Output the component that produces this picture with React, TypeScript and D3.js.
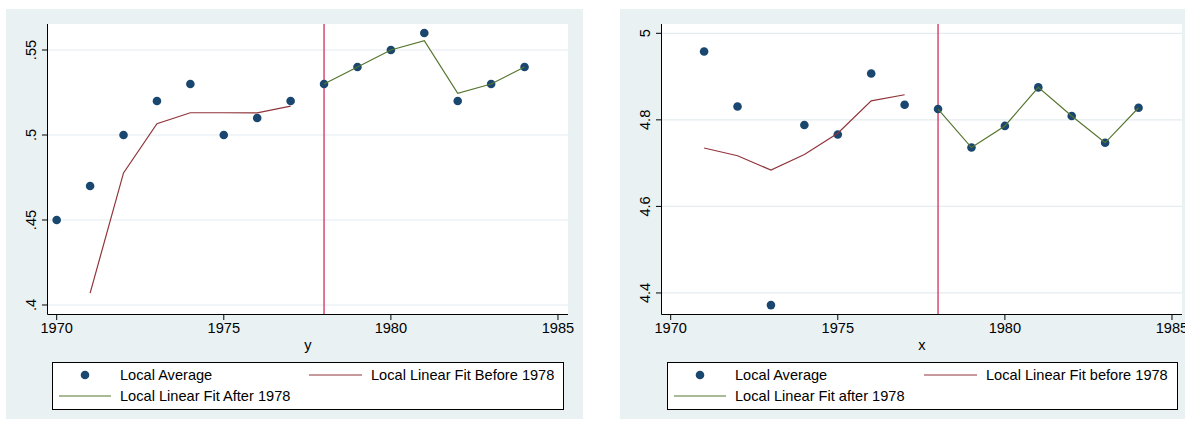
import { useEffect, useRef } from "react";
import * as d3 from "d3";

// shared x values
const avgYears = [1970, 1971, 1972, 1973, 1974, 1975, 1976, 1977, 1978, 1979, 1980, 1981, 1982, 1983, 1984];
const beforeYears = [1971, 1972, 1973, 1974, 1975, 1976, 1977];
const afterYears = [1978, 1979, 1980, 1981, 1982, 1983, 1984];
const xTicks = [1970, 1975, 1980, 1985];

// left panel (y)
const leftAvg = [0.45, 0.47, 0.5, 0.52, 0.53, 0.5, 0.51, 0.52, 0.53, 0.54, 0.55, 0.56, 0.52, 0.53, 0.54];
const leftBefore = [0.407, 0.4777, 0.5066, 0.5131, 0.5131, 0.513, 0.517];
const leftAfter = [0.53, 0.54, 0.55, 0.5555, 0.5245, 0.53, 0.54];
const leftYTicks = [0.4, 0.45, 0.5, 0.55];
const leftYLabels = [".4", ".45", ".5", ".55"];

// right panel (x)
const rightAvg = [NaN, 4.958, 4.831, 4.372, 4.788, 4.766, 4.907, 4.835, 4.825, 4.736, 4.786, 4.875, 4.809, 4.747, 4.828];
const rightBefore = [4.735, 4.717, 4.684, 4.72, 4.769, 4.844, 4.858];
const rightAfter = [4.825, 4.736, 4.786, 4.875, 4.809, 4.747, 4.828];
const rightYTicks = [4.4, 4.6, 4.8, 5];
const rightYLabels = ["4.4", "4.6", "4.8", "5"];

const BG = "#eaf1f3";
const GRID = "#e4ecef";
const NAVY = "#1a476f";
const MAROON = "#90353b";
const GREEN = "#55752f";
const CUT = "#d83c68";
const FONT = "'Liberation Sans', Arial, sans-serif";
const FS = 14.6;

interface PanelSpec {
  bgX0: number;
  bgX1: number;
  plotX0: number;
  plotX1: number;
  yDomain: [number, number];
  yTicks: number[];
  yLabels: string[];
  avg: number[];
  before: number[];
  after: number[];
  title: string;
  legendX0: number;
  legendX1: number;
  beforeLabel: string;
  afterLabel: string;
}

const panels: PanelSpec[] = [
  {
    bgX0: 6, bgX1: 583, plotX0: 48, plotX1: 568,
    yDomain: [0.3947, 0.5653], yTicks: leftYTicks, yLabels: leftYLabels,
    avg: leftAvg, before: leftBefore, after: leftAfter, title: "y",
    legendX0: 52, legendX1: 563,
    beforeLabel: "Local Linear Fit Before 1978", afterLabel: "Local Linear Fit After 1978",
  },
  {
    bgX0: 620, bgX1: 1185, plotX0: 662, plotX1: 1182,
    yDomain: [4.3514, 5.0215], yTicks: rightYTicks, yLabels: rightYLabels,
    avg: rightAvg, before: rightBefore, after: rightAfter, title: "x",
    legendX0: 667, legendX1: 1177,
    beforeLabel: "Local Linear Fit before 1978", afterLabel: "Local Linear Fit after 1978",
  },
];

export default function App() {
  const ref = useRef<SVGSVGElement>(null);

  useEffect(() => {
    if (!ref.current) return;
    const svg = d3.select(ref.current);
    svg.selectAll("*").remove();
    svg.attr("font-family", FONT);

    const top = 24, bottom = 314;

    panels.forEach((p) => {
      const g = svg.append("g");
      g.append("rect").attr("x", p.bgX0).attr("y", 9).attr("width", p.bgX1 - p.bgX0).attr("height", 410).attr("fill", BG);
      g.append("rect").attr("x", p.plotX0).attr("y", top).attr("width", p.plotX1 - p.plotX0).attr("height", bottom - top).attr("fill", "white");

      const x = d3.scaleLinear().domain([1969.74, 1985.3]).range([p.plotX0, p.plotX1]);
      const y = d3.scaleLinear().domain(p.yDomain).range([bottom, top]);

      // grid
      g.selectAll(".grid").data(p.yTicks).enter().append("line")
        .attr("x1", p.plotX0).attr("x2", p.plotX1)
        .attr("y1", (d) => y(d)).attr("y2", (d) => y(d))
        .attr("stroke", GRID).attr("stroke-width", 1.2);

      // axes
      g.append("line").attr("x1", p.plotX0 - 0.5).attr("x2", p.plotX0 - 0.5).attr("y1", top).attr("y2", bottom + 0.5).attr("stroke", "#000");
      g.append("line").attr("x1", p.plotX0 - 0.5).attr("x2", p.plotX1).attr("y1", bottom + 0.5).attr("y2", bottom + 0.5).attr("stroke", "#000");

      p.yTicks.forEach((t, i) => {
        g.append("line").attr("x1", p.plotX0 - 6).attr("x2", p.plotX0).attr("y1", y(t)).attr("y2", y(t)).attr("stroke", "#000");
        g.append("text")
          .attr("transform", `translate(${p.plotX0 - 12},${y(t)}) rotate(-90)`)
          .attr("text-anchor", "middle").attr("font-size", FS).attr("fill", "#000")
          .text(p.yLabels[i]);
      });

      xTicks.forEach((t) => {
        g.append("line").attr("x1", x(t)).attr("x2", x(t)).attr("y1", bottom).attr("y2", bottom + 6).attr("stroke", "#000");
        g.append("text").attr("x", x(t)).attr("y", bottom + 19).attr("text-anchor", "middle")
          .attr("font-size", FS).attr("fill", "#000").text(String(t));
      });

      g.append("text").attr("x", (p.plotX0 + p.plotX1) / 2).attr("y", 350).attr("text-anchor", "middle")
        .attr("font-size", FS).attr("fill", "#000").text(p.title);

      // cutoff
      g.append("line").attr("x1", x(1978)).attr("x2", x(1978)).attr("y1", top).attr("y2", bottom)
        .attr("stroke", CUT).attr("stroke-width", 1.4);

      const line = d3.line<[number, number]>().x((d) => x(d[0])).y((d) => y(d[1]));

      const pts = avgYears.map((yr, i) => [yr, p.avg[i]] as [number, number]).filter((d) => !isNaN(d[1]));
      g.selectAll(".pt").data(pts).enter().append("circle")
        .attr("cx", (d) => x(d[0])).attr("cy", (d) => y(d[1])).attr("r", 4.3).attr("fill", NAVY);

      g.append("path").attr("d", line(beforeYears.map((yr, i) => [yr, p.before[i]])))
        .attr("fill", "none").attr("stroke", MAROON).attr("stroke-width", 1.2);
      g.append("path").attr("d", line(afterYears.map((yr, i) => [yr, p.after[i]])))
        .attr("fill", "none").attr("stroke", GREEN).attr("stroke-width", 1.2);

      // legend
      const lx = p.legendX0;
      g.append("rect").attr("x", lx + 0.5).attr("y", 362.5).attr("width", p.legendX1 - lx).attr("height", 47)
        .attr("fill", "white").attr("stroke", "#000");
      g.append("circle").attr("cx", lx + 33).attr("cy", 375).attr("r", 4.3).attr("fill", NAVY);
      g.append("text").attr("x", lx + 68).attr("y", 380).attr("font-size", FS).text("Local Average");
      g.append("line").attr("x1", lx + 7).attr("x2", lx + 59).attr("y1", 396).attr("y2", 396).attr("stroke", GREEN);
      g.append("text").attr("x", lx + 68).attr("y", 401).attr("font-size", FS).text(p.afterLabel);
      g.append("line").attr("x1", lx + 257).attr("x2", lx + 310).attr("y1", 375).attr("y2", 375).attr("stroke", MAROON);
      g.append("text").attr("x", lx + 319).attr("y", 380).attr("font-size", FS).text(p.beforeLabel);
    });
  }, []);

  return (
    <svg ref={ref} width={1185} height={423} style={{ position: "absolute", left: 0, top: 0, background: "white" }} />
  );
}
